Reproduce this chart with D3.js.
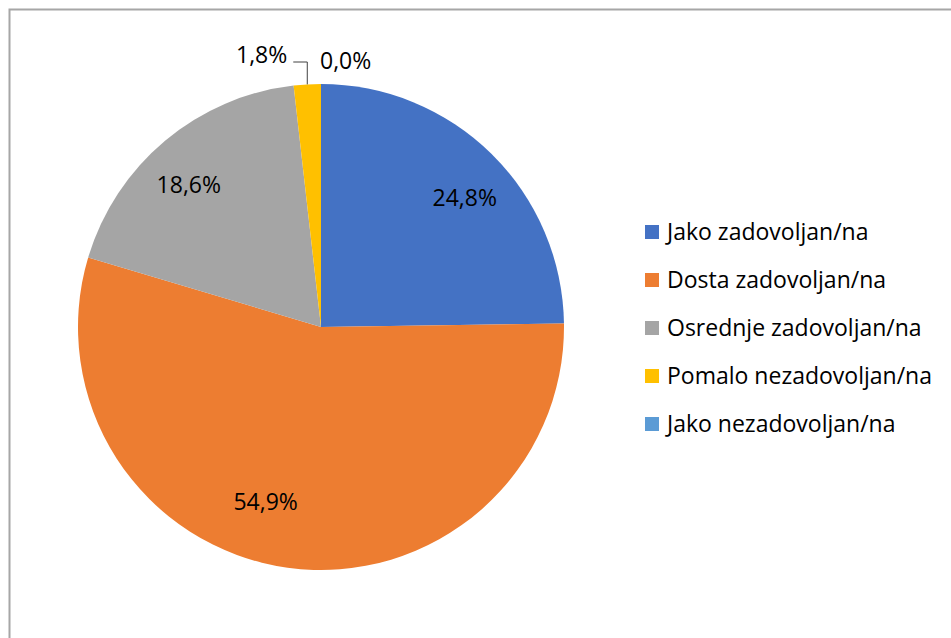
<!DOCTYPE html>
<html>
<head>
<meta charset="utf-8">
<script src="https://cdn.jsdelivr.net/npm/d3@7"></script>
<style>
  body { margin: 0; background: #fff; }
  text { font-family: "Open Sans", "Noto Sans", sans-serif; fill: #000; }
</style>
</head>
<body>
<div id="chart"></div>
<script>
// data
let categories = ["Jako zadovoljan/na", "Dosta zadovoljan/na", "Osrednje zadovoljan/na", "Pomalo nezadovoljan/na", "Jako nezadovoljan/na"];
let values = [24.8, 54.9, 18.6, 1.8, 0.0];
let labels = ["24,8%", "54,9%", "18,6%", "1,8%", "0,0%"];
let colors = ["#4472C4", "#ED7D31", "#A5A5A5", "#FFC000", "#5B9BD5"];

let width = 951, height = 638;
let radius = 243;
let cx = 321, cy = 327;

//SVG
let svg = d3.select("#chart")
    .append("svg")
        .attr("width", width)
        .attr("height", height);

// frame
svg.append("rect")
    .attr("x", 9.5)
    .attr("y", 9.5)
    .attr("width", width + 20)
    .attr("height", height + 20)
    .attr("fill", "none")
    .attr("stroke", "#a6a6a6")
    .attr("stroke-width", 2);

let g = svg.append("g")
    .attr("transform", "translate(" + cx + "," + cy + ")");

let pie = d3.pie().sort(null).value(function(d) { return d; });
let arcs = pie(values);

let arc = d3.arc().innerRadius(0).outerRadius(radius);
let labelArc = d3.arc().innerRadius(radius * 0.79).outerRadius(radius * 0.79);

// slices
g.selectAll("path")
    .data(arcs)
    .enter()
    .append("path")
    .attr("d", arc)
    .attr("fill", function(d, i) { return colors[i]; });

// labels inside the big slices
let nudge = {1: [-29, -16], 0: [9, 7], 2: [-9, 4]};
arcs.forEach(function(d, i) {
    if (values[i] < 5) return;
    let c = labelArc.centroid(d);
    let n = nudge[i] || [0, 0];
    g.append("text")
        .attr("x", c[0] + n[0])
        .attr("y", c[1] + n[1])
        .attr("text-anchor", "middle")
        .attr("dominant-baseline", "central")
        .style("font-size", "23px")
        .text(labels[i]);
});

// small slices: labels outside
let small = arcs[3];
let mid = (small.startAngle + small.endAngle) / 2;
let ex = Math.sin(mid) * radius, ey = -Math.cos(mid) * radius;
let ly = -radius - 22;
g.append("path")
    .attr("d", "M" + ex + "," + ey + "L" + ex + "," + ly + "L" + (ex - 14) + "," + ly)
    .attr("fill", "none")
    .attr("stroke", "#404040")
    .attr("stroke-width", 1);
g.append("text")
    .attr("x", ex - 20)
    .attr("y", ly + 1)
    .attr("text-anchor", "end")
    .style("font-size", "23px")
    .text(labels[3]);

let zero = arcs[4];
g.append("text")
    .attr("x", Math.sin(zero.startAngle) * radius - 1)
    .attr("y", -radius - 15)
    .attr("text-anchor", "start")
    .style("font-size", "23px")
    .text(labels[4]);

// legend
let legend = svg.append("g")
    .attr("transform", "translate(645,225)");

legend.selectAll("rect")
    .data(categories)
    .enter()
    .append("rect")
    .attr("x", 0)
    .attr("y", function(d, i) { return i * 48; })
    .attr("width", 14)
    .attr("height", 14)
    .attr("fill", function(d, i) { return colors[i]; });

legend.selectAll("text")
    .data(categories)
    .enter()
    .append("text")
    .attr("x", 22)
    .attr("y", function(d, i) { return i * 48 + 15; })
    .style("font-size", "23px")
    .text(function(d) { return d; });
</script>
</body>
</html>
